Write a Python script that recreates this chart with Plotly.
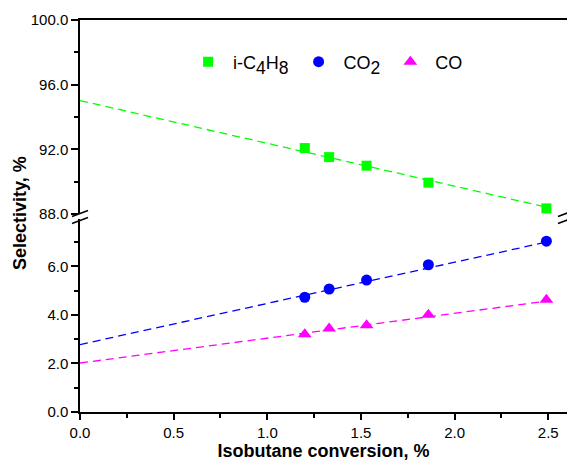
import plotly.graph_objects as go

# ---- data ----
conv = [1.20, 1.33, 1.53, 1.86, 2.49]
sel_c4h8 = [92.08, 91.52, 90.99, 89.94, 88.35]
sel_co2 = [4.73, 5.07, 5.44, 6.07, 7.04]
sel_co = [3.21, 3.44, 3.58, 4.01, 4.63]

fit_x = [0.0, 2.5]
fit_c4h8 = [95.02, 88.40]
fit_co2 = [2.78, 7.02]
fit_co = [2.02, 4.58]

x_ticks = [0.0, 0.5, 1.0, 1.5, 2.0, 2.5]
y_low_ticks = [0.0, 2.0, 4.0, 6.0]
y_up_ticks = [88.0, 92.0, 96.0, 100.0]

GREEN = "#00FF00"
BLUE = "#0000FF"
MAGENTA = "#FF00FF"
FONT = "Liberation Sans, Arial, sans-serif"

fig = go.Figure()

dash = "8px,5px"
# fit lines
fig.add_trace(go.Scatter(x=fit_x, y=fit_c4h8, mode="lines", xaxis="x2", yaxis="y2",
                         line=dict(color=GREEN, width=1.3, dash=dash), showlegend=False, hoverinfo="skip"))
fig.add_trace(go.Scatter(x=fit_x, y=fit_co2, mode="lines",
                         line=dict(color=BLUE, width=1.3, dash=dash), showlegend=False, hoverinfo="skip"))
fig.add_trace(go.Scatter(x=fit_x, y=fit_co, mode="lines",
                         line=dict(color=MAGENTA, width=1.3, dash=dash), showlegend=False, hoverinfo="skip"))

SUB = "<span style='font-size:25px'><sub>{}</sub></span>"

# markers
fig.add_trace(go.Scatter(x=conv, y=sel_c4h8, mode="markers", xaxis="x2", yaxis="y2",
                         name=" i-C" + SUB.format("4") + "H" + SUB.format("8") + " ",
                         marker=dict(symbol="square", size=10, color=GREEN)))
fig.add_trace(go.Scatter(x=conv, y=sel_co2, mode="markers", name=" CO" + SUB.format("2") + " ",
                         marker=dict(symbol="circle", size=11, color=BLUE)))
fig.add_trace(go.Scatter(x=conv, y=sel_co, mode="markers", name=" CO",
                         marker=dict(symbol="triangle-up", size=12, color=MAGENTA)))

L, R, T, B = 80, 0, 20, 50
W, H = 567, 462
pw = W - L - R
ph = H - T - B

low_top = 0.492
up_bot = 0.505

axis_common = dict(showline=True, linecolor="black", linewidth=1.5, showgrid=False,
                   zeroline=False, ticks="outside", tickcolor="black", tickwidth=1.5,
                   tickfont=dict(family=FONT, size=15, color="black"))

fig.update_layout(
    width=W, height=H,
    margin=dict(l=L, r=R, t=T, b=B),
    plot_bgcolor="white", paper_bgcolor="white",
    font=dict(family=FONT, color="black"),
    xaxis=dict(**axis_common, range=[0, 2.6], tickvals=x_ticks, tickformat=".1f",
               ticklen=6, anchor="y", domain=[0, 1],
               minor=dict(dtick=0.25, ticks="outside", ticklen=4, tickcolor="black", tickwidth=1.5),
               title=dict(text="<b>Isobutane conversion, %</b>", font=dict(family=FONT, size=18),
                          standoff=4)),
    xaxis2=dict(showline=True, linecolor="black", linewidth=1.5, showgrid=False, zeroline=False,
                range=[0, 2.6], matches="x", anchor="y2", side="top", showticklabels=False,
                ticks="", domain=[0, 1]),
    yaxis=dict(**axis_common, range=[0, 7.95], tickvals=y_low_ticks, tickformat=".1f",
               ticklen=7, domain=[0, low_top], anchor="x",
               minor=dict(dtick=1, ticks="outside", ticklen=4, tickcolor="black", tickwidth=1.5)),
    yaxis2=dict(**axis_common, range=[88, 100], tickvals=y_up_ticks, tickformat=".1f",
                ticklen=7, domain=[up_bot, 1], anchor="x2",
                minor=dict(dtick=2, ticks="outside", ticklen=4, tickcolor="black", tickwidth=1.5)),
    legend=dict(orientation="h", x=0.222, y=0.893, xanchor="left", yanchor="middle",
                font=dict(family=FONT, size=18), bgcolor="rgba(0,0,0,0)", itemwidth=30,
                tracegroupgap=0),
    showlegend=True,
)

# y title
fig.add_annotation(text="<b>Selectivity, %</b>", xref="paper", yref="paper",
                   x=-(L - 20) / pw, y=(H - B - 213) / ph, textangle=-90,
                   showarrow=False, font=dict(family=FONT, size=18),
                   xanchor="center", yanchor="middle")

# break marks (pixel positions converted to paper)
def px(xp):
    return (xp - L) / pw

def py(yp):
    return (H - B - yp) / ph

for xc in (80, 566):
    for yc in (213.5, 220.5):
        fig.add_shape(type="line", xref="paper", yref="paper",
                      x0=px(xc - 8), y0=py(yc + 3), x1=px(xc + 8), y1=py(yc - 3),
                      line=dict(color="black", width=1.5))

fig.write_html("out.html")
